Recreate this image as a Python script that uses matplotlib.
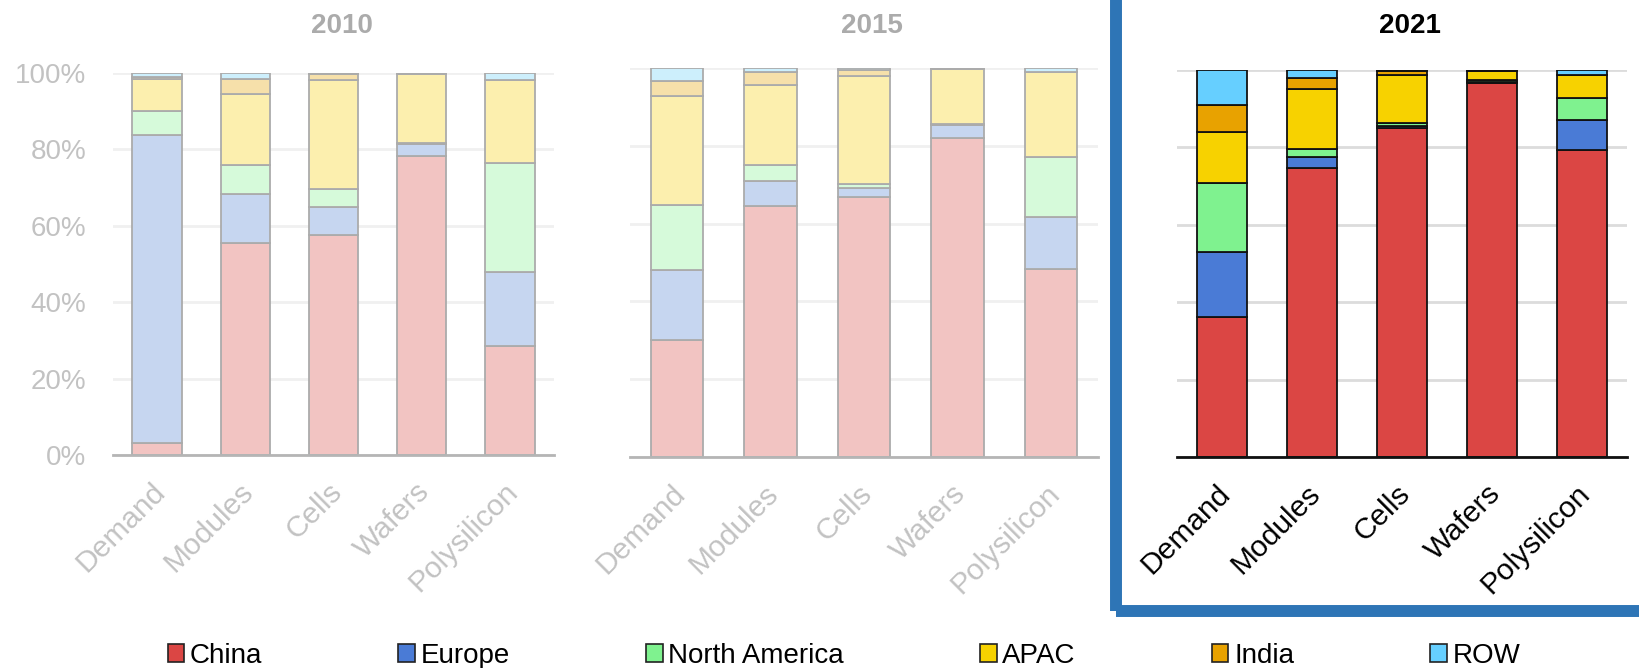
import matplotlib
matplotlib.use("Agg")
import matplotlib.pyplot as plt
import numpy as np
from matplotlib.patches import Patch, Rectangle
from matplotlib.transforms import ScaledTranslation

plt.rcParams['font.family'] = ['Liberation Sans', 'DejaVu Sans']

# ---- data: share of each supply-chain stage by region (%) ----
categories = ["Demand", "Modules", "Cells", "Wafers", "Polysilicon"]
regions = ["China", "Europe", "North America", "APAC", "India", "ROW"]

share_2010 = {
    "China":         [3.2, 55.4, 57.6, 78.2, 28.6],
    "Europe":        [80.5, 13.0, 7.4, 3.1, 19.4],
    "North America": [6.3, 7.6, 4.6, 0.3, 28.5],
    "APAC":          [8.4, 18.6, 28.5, 18.2, 21.6],
    "India":         [0.5, 3.7, 1.6, 0.0, 0.0],
    "ROW":           [1.1, 1.7, 0.3, 0.2, 1.9],
}
share_2015 = {
    "China":         [30.2, 64.6, 66.8, 82.1, 48.4],
    "Europe":        [17.8, 6.4, 2.4, 3.2, 13.2],
    "North America": [16.8, 4.1, 1.1, 0.2, 15.4],
    "APAC":          [27.9, 20.5, 27.7, 14.2, 22.1],
    "India":         [3.9, 3.4, 1.4, 0.0, 0.0],
    "ROW":           [3.4, 1.0, 0.6, 0.3, 0.9],
}
share_2021 = {
    "China":         [36.2, 74.6, 85.0, 96.6, 79.4],
    "Europe":        [16.9, 2.8, 0.6, 0.4, 7.7],
    "North America": [17.7, 2.3, 0.6, 0.4, 5.7],
    "APAC":          [13.2, 15.4, 12.4, 2.3, 5.8],
    "India":         [6.9, 2.8, 1.1, 0.2, 0.2],
    "ROW":           [9.1, 2.1, 0.3, 0.1, 1.2],
}
yticks = [0, 20, 40, 60, 80, 100]

# ---- styles ----
vivid_colors = ["#DB4644", "#4A7BD6", "#7FF28F", "#F7D200", "#E8A200", "#66CFFF"]
faded_colors = ["#F2C4C2", "#C6D6F0", "#D6FADA", "#FCEFAE", "#F6E0AA", "#CDEFFC"]

faded = dict(colors=faded_colors, edge="#ABABAB", text="#C2C2C2", title="#ABABAB",
             grid="#F0F0F0", base="#B5B5B5")
vivid = dict(colors=vivid_colors, edge="#111111", text="#000000", title="#000000",
             grid="#DCDCDC", base="#111111")

W, H = 1640, 668
fig = plt.figure(figsize=(W / 100, H / 100), dpi=100)


def box(left, right, top, bottom):
    return [left / W, 1 - bottom / H, (right - left) / W, (bottom - top) / H]


panels = [
    ("2010", share_2010, box(113, 554, 73, 455), faded, True),
    ("2015", share_2015, box(630, 1098, 68, 457), faded, False),
    ("2021", share_2021, box(1177, 1627, 70, 457), vivid, False),
]

x = np.arange(len(categories))
for year, shares, rect, st, show_y in panels:
    ax = fig.add_axes(rect)
    bottom = np.zeros(len(categories))
    for region, color in zip(regions, st["colors"]):
        vals = np.array(shares[region])
        ax.bar(x, vals, width=0.56, bottom=bottom, color=color,
               edgecolor=st["edge"], linewidth=1.3, zorder=3)
        bottom += vals
    ax.set_xlim(-0.5, len(categories) - 0.5)
    ax.set_ylim(0, 100)
    ax.set_yticks(yticks)
    ax.grid(axis="y", color=st["grid"], linewidth=2, zorder=0)
    ax.set_axisbelow(True)
    for side in ["left", "right", "top"]:
        ax.spines[side].set_visible(False)
    ax.spines["bottom"].set_color(st["base"])
    ax.spines["bottom"].set_linewidth(2)
    ax.spines["bottom"].set_zorder(4)
    if show_y:
        ax.set_yticklabels([f"{v}%" for v in yticks], fontsize=20, color=st["text"])
        ax.tick_params(axis="y", length=0, pad=19)
    else:
        ax.tick_params(axis="y", length=0, labelleft=False)
    ax.set_xticks(x)
    ax.set_xticklabels(categories, rotation=45, ha="right", va="center",
                       rotation_mode="anchor", fontsize=21.5, color=st["text"])
    ax.tick_params(axis="x", length=0, pad=23)
    shift = ScaledTranslation(4 / 100, 0, fig.dpi_scale_trans)
    for lab in ax.get_xticklabels():
        lab.set_transform(lab.get_transform() + shift)
    cx = (rect[0] + rect[2] / 2) + 8 / W
    fig.text(cx, 1 - 26 / H, year, ha="center", va="center", fontsize=20,
             fontweight="bold", color=st["title"])

# frame highlighting the latest year
fig.add_artist(Rectangle((1116 / W, 1 - 610.5 / H), 1.0, 1.0, transform=fig.transFigure,
                         fill=False, edgecolor="#2E75B6", linewidth=8.6))

handles = [Patch(facecolor=c, edgecolor="#222222", linewidth=1.2) for c in vivid_colors]
fig.legend(handles, regions, loc="center", bbox_to_anchor=(844 / W, 1 - 656 / H),
           ncol=6, frameon=False, fontsize=20, handlelength=0.6, handleheight=0.6,
           handletextpad=0.2, columnspacing=4.9, borderpad=0, borderaxespad=0)

fig.savefig("out.png", dpi=100)
